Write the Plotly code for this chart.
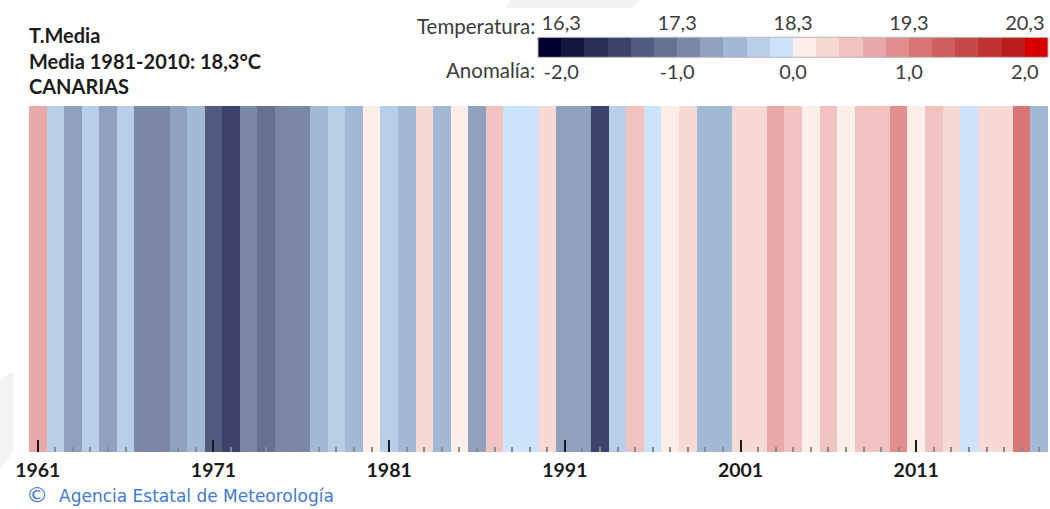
import plotly.graph_objects as go

# ---------------- data ----------------
YEARS = list(range(1961, 2019))
TEMPS = [19.0, 18.0, 17.6, 18.0, 17.6, 18.0, 17.4, 17.4, 17.6, 17.8,
         17.0, 16.8, 17.4, 17.2, 17.4, 17.4, 17.8, 18.0, 17.8, 18.4,
         18.0, 17.8, 18.6, 17.8, 18.4, 17.6, 18.8, 18.2, 18.2, 18.6,
         17.6, 17.6, 16.8, 18.0, 18.8, 18.2, 18.4, 18.6, 17.8, 17.8,
         18.6, 18.6, 19.0, 18.8, 18.4, 18.8, 18.4, 18.8, 18.8, 19.2,
         18.4, 18.8, 18.6, 18.2, 18.6, 18.6, 19.4, 17.8]
BASE = 18.3  # media 1981-2010

MAJOR_YEARS = [1961, 1971, 1981, 1991, 2001, 2011]
MAJOR_LABELS = ["1961", "1971", "1981", "1991", "2001", "2011"]

TEMP_TICKS = [16.3, 17.3, 18.3, 19.3, 20.3]
TEMP_LABELS = ["16,3", "17,3", "18,3", "19,3", "20,3"]
ANOM_TICKS = [-2.0, -1.0, 0.0, 1.0, 2.0]
ANOM_LABELS = ["-2,0", "-1,0", "0,0", "1,0", "2,0"]

# 22 colour classes, 0.2 degC each, from <-2.0 to >2.0
CLASS_COLORS = ["#00002e", "#15173f", "#2a2d56", "#3c426c", "#525a80", "#667092",
                "#7a87a8", "#8fa1bf", "#a3b8d5", "#b9cfe9", "#cce4fb",
                "#fcefe9", "#f7d9d6", "#f0c2c0", "#e9a9a8", "#e08f8e", "#d87676",
                "#d06060", "#c84848", "#c03131", "#b81c1c", "#d80000"]
STEP = 0.2

# ---------------- scale ----------------
n = len(CLASS_COLORS)
half = n / 2 * STEP
zmin, zmax = BASE - half, BASE + half
cscale = []
for i, c in enumerate(CLASS_COLORS):
    cscale.append([i / n, c])
    cscale.append([(i + 1) / n, c])

legend_anom = [-half + STEP * (i + 0.5) for i in range(n)]
legend_temp = [BASE + a for a in legend_anom]

W, H = 1050, 509
ML, MR, MT, MB = 29, 2, 0, 57
PW, PH = W - ML - MR, H - MT - MB


def px(x):
    return (x - ML) / PW


def py(y):
    return (H - MB - y) / PH


fig = go.Figure()

fig.add_trace(go.Heatmap(
    x=YEARS, y=[0], z=[TEMPS], colorscale=cscale, zmin=zmin, zmax=zmax,
    showscale=False, xaxis="x", yaxis="y", hoverinfo="x+z"))

fig.add_trace(go.Heatmap(
    x=legend_anom, y=[0], z=[legend_temp], colorscale=cscale, zmin=zmin, zmax=zmax,
    showscale=False, xaxis="x2", yaxis="y2", hoverinfo="skip"))

fig.add_trace(go.Scatter(x=[None], y=[None], xaxis="x3", yaxis="y2",
                         showlegend=False, hoverinfo="skip"))

FONT = "Lato"
LBL = "#3c3c3c"

fig.update_layout(
    width=W, height=H,
    margin=dict(l=ML, r=MR, t=MT, b=MB, pad=0),
    paper_bgcolor="white", plot_bgcolor="white",
    separators=",.",
    showlegend=False,
    xaxis=dict(
        domain=[0, 1], range=[YEARS[0] - 0.5, YEARS[-1] + 0.5],
        tickmode="array", tickvals=MAJOR_YEARS, ticktext=MAJOR_LABELS,
        ticks="inside", ticklen=12, tickwidth=2, tickcolor="#1a1a1a",
        minor=dict(dtick=1, tick0=YEARS[0], ticks="inside", ticklen=5,
                   tickwidth=2, tickcolor="#8a8a8a"),
        tickfont=dict(family=FONT, size=19.5, color="#1a1a1a", weight="bold"),
        showgrid=False, zeroline=False, showline=False, fixedrange=True,
        ticklabelstandoff=4,
    ),
    yaxis=dict(domain=[0, py(106)], range=[-0.5, 0.5], visible=False, fixedrange=True),
    xaxis2=dict(
        domain=[px(538), 1.0], range=[-half, half], anchor="y2", side="bottom",
        tickmode="array", tickvals=ANOM_TICKS, ticktext=ANOM_LABELS, ticks="",
        tickfont=dict(family=FONT, size=20, color=LBL),
        showgrid=False, zeroline=False, showline=False, fixedrange=True,
        ticklabelstandoff=1,
    ),
    xaxis3=dict(
        overlaying="x2", range=[zmin, zmax], anchor="y2", side="top",
        tickmode="array", tickvals=TEMP_TICKS, ticktext=TEMP_LABELS, ticks="",
        tickfont=dict(family=FONT, size=20, color=LBL),
        showgrid=False, zeroline=False, showline=False, fixedrange=True,
        ticklabelstandoff=2,
    ),
    yaxis2=dict(domain=[py(57.3), py(37.3)], range=[-0.5, 0.5], visible=False,
                fixedrange=True, anchor="x2"),
)

# colour bar frame
fig.add_shape(type="rect", xref="x2 domain", yref="y2 domain", x0=0, x1=1, y0=0, y1=1,
              line=dict(color="#b4b4b4", width=1), fillcolor="rgba(0,0,0,0)")

# faint background watermark pieces
fig.add_shape(type="path", xref="paper", yref="paper", layer="below",
              path=f"M {px(510)} {py(0)} L {px(640)} {py(0)} L {px(632)} {py(8)} L {px(506)} {py(8)} Z",
              fillcolor="#f2f2f2", line=dict(width=0))
fig.add_shape(type="path", xref="paper", yref="paper", layer="below",
              path=f"M {px(0)} {py(378)} L {px(13)} {py(372)} L {px(13)} {py(452)} L {px(0)} {py(470)} Z",
              fillcolor="#f3f3f3", line=dict(width=0))

TITLE_LINES = ["T.Media", "Media 1981-2010: 18,3°C", "CANARIAS"]
for i, t in enumerate(TITLE_LINES):
    fig.add_annotation(text=t, xref="paper", yref="paper", x=px(27), y=py(35 + 25.5 * i),
                       xanchor="left", yanchor="middle", showarrow=False,
                       font=dict(family=FONT, size=20, color="#1c1c1c", weight="bold"))

fig.add_annotation(text="Temperatura:", xref="paper", yref="paper", x=px(537), y=py(26),
                   xanchor="right", yanchor="middle", showarrow=False,
                   font=dict(family=FONT, size=20.5, color=LBL))
fig.add_annotation(text="Anomalía:", xref="paper", yref="paper", x=px(537), y=py(70),
                   xanchor="right", yanchor="middle", showarrow=False,
                   font=dict(family=FONT, size=20.5, color=LBL))

fig.add_annotation(text="©", xref="paper", yref="paper", x=px(25), y=py(494),
                   xanchor="left", yanchor="middle", showarrow=False, borderpad=0,
                   font=dict(family="DejaVu Sans", size=22, color="#3f7ad0"))
fig.add_annotation(text="Agencia Estatal de Meteorología", xref="paper", yref="paper",
                   x=px(58), y=py(496), xanchor="left", yanchor="middle", showarrow=False,
                   borderpad=0,
                   font=dict(family="DejaVu Sans", size=17, color="#3f7ad0"))

fig.write_html("out.html", config={"displayModeBar": False},
               post_script="document.body.style.margin='0';document.body.style.overflow='hidden';")
